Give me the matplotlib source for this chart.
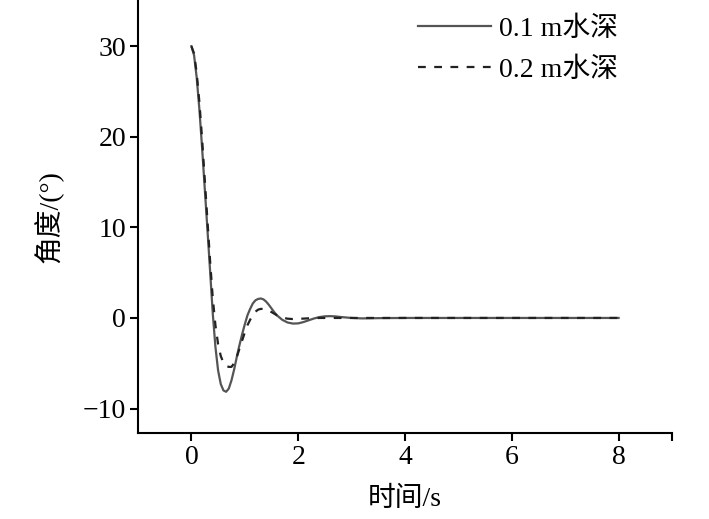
import matplotlib
matplotlib.use("Agg")
import matplotlib.pyplot as plt

plt.rcParams['font.family'] = ['Liberation Serif', 'Noto Sans CJK SC']
plt.rcParams['axes.unicode_minus'] = True

t_01 = [0, 0.05, 0.1, 0.15, 0.2, 0.25, 0.3, 0.35, 0.4, 0.45, 0.5, 0.55, 0.6, 0.65, 0.7,
        0.75, 0.8, 0.85, 0.9, 0.95, 1.0, 1.05, 1.1, 1.15, 1.2, 1.25, 1.3, 1.35, 1.4, 1.45,
        1.5, 1.55, 1.6, 1.7, 1.8, 1.9, 2.0, 2.1, 2.2, 2.3, 2.4, 2.5, 2.6, 2.7, 2.8, 3.0,
        3.2, 3.5, 4.0, 8.0]
y_01 = [30, 29, 26.5, 23, 18.8, 14.3, 9.8, 5.2, 0.5, -3.2, -5.8, -7.3, -8.0, -8.15, -7.8,
        -6.9, -5.7, -4.3, -3.0, -1.8, -0.7, 0.3, 1.0, 1.6, 1.95, 2.1, 2.15, 2.05, 1.8, 1.45,
        1.05, 0.65, 0.3, -0.2, -0.5, -0.62, -0.6, -0.45, -0.25, -0.05, 0.1, 0.18, 0.2, 0.17, 0.1, 0.0,
        -0.05, -0.02, 0.0, 0.0]

t_02 = [0, 0.05, 0.1, 0.15, 0.2, 0.25, 0.3, 0.35, 0.4, 0.45, 0.5, 0.55, 0.6, 0.65, 0.7,
        0.75, 0.8, 0.85, 0.9, 0.95, 1.0, 1.05, 1.1, 1.15, 1.2, 1.25, 1.3, 1.35, 1.4, 1.45,
        1.5, 1.6, 1.7, 1.8, 1.9, 2.0, 2.2, 2.4, 3.0, 8.0]
y_02 = [30, 29.2, 27, 23.8, 19.8, 15.3, 10.8, 6.3, 2.2, -0.8, -2.9, -4.2, -4.95, -5.3, -5.4,
        -5.4, -5.0, -4.3, -3.4, -2.5, -1.6, -0.8, -0.2, 0.3, 0.7, 0.92, 1.0, 1.0, 0.95, 0.82,
        0.65, 0.3, 0.05, -0.08, -0.12, -0.1, -0.04, 0.0, 0.0, 0.0]

labels = ['0.1 m水深', '0.2 m水深']
xticks = [0, 2, 4, 6, 8]
yticks = [-10, 0, 10, 20, 30]

fig = plt.figure(figsize=(7.09, 5.19), dpi=100)
ax = fig.add_axes([138/709, 86/519, (672-138)/709, (519-86)/519])

ax.plot(t_01, y_01, color='#555555', lw=1.6, label=labels[0])
ax.plot(t_02, y_02, color='#222222', lw=1.6, ls=(0, (3.5, 3.8)), label=labels[1])

ax.set_xlim(-1, 9)
ax.set_ylim(-12.7, 35.1)
ax.set_xticks(xticks + [9])
ax.set_xticklabels([str(v) for v in xticks] + [''])
ax.set_yticks(yticks)
ax.set_yticklabels(['\u221210', '0', '10', '20', '30'])
ax.tick_params(direction='out', length=6, width=1.5, labelsize=20, pad=2.5)
for s in ['top', 'right']:
    ax.spines[s].set_visible(False)
for s in ['left', 'bottom']:
    ax.spines[s].set_linewidth(1.5)

ax.set_xlabel('时间/s', fontsize=20, labelpad=12)
ax.set_ylabel('角度/(°)', fontsize=20, labelpad=14)

ax.legend(loc='upper right', bbox_to_anchor=(0.899, 0.962), frameon=False, fontsize=20,
          borderpad=0, borderaxespad=0,
          handlelength=2.63, handletextpad=0.3, labelspacing=0.55)

fig.savefig('out.png', dpi=100)
